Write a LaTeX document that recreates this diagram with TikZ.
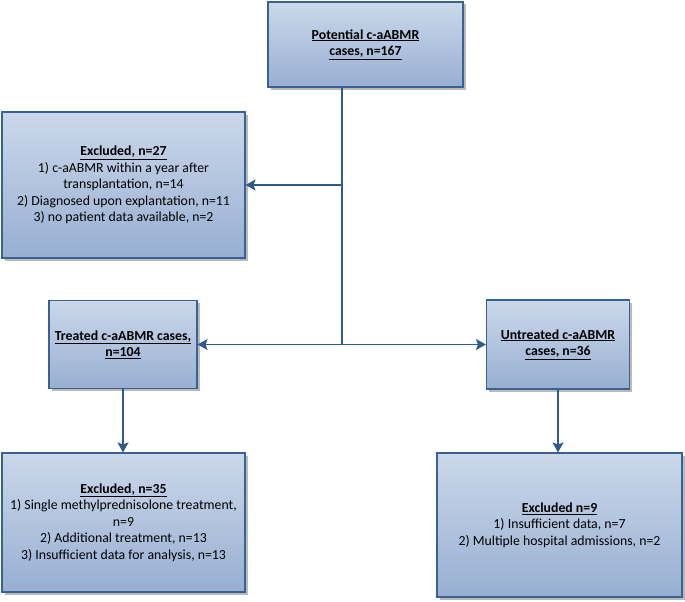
\documentclass[tikz,border=0pt]{standalone}
\usepackage{fontspec}
\setmainfont{Carlito}
\usetikzlibrary{arrows.meta,shadows}

\definecolor{boxtop}{HTML}{CBD8EA}
\definecolor{boxbot}{HTML}{98AFD2}
\definecolor{boxline}{HTML}{3A6193}
\definecolor{flowline}{HTML}{2F5A8C}

\newcommand{\hd}[1]{\underline{\textbf{#1}}}

\tikzset{
	flowbox/.style={draw=boxline, line width=1.1pt, top color=boxtop, bottom color=boxbot,
		align=center, inner sep=2pt, font=\fontsize{13.8}{16.5}\selectfont,
		drop shadow={shadow xshift=2.5pt, shadow yshift=-2.5pt, fill=black!45, opacity=.6}},
	flowarrow/.style={draw=flowline, line width=1.2pt, -{Stealth[length=10pt,width=11pt,inset=2pt]}},
	flowedge/.style={draw=flowline, line width=1.2pt}
}

\begin{document}
\begin{tikzpicture}[x=1pt,y=-1pt]
	\useasboundingbox (0,0) rectangle (685,602);

	%boxes
	\node[flowbox, minimum width=195pt, minimum height=85pt] (potential) at (365.5,44.5)
		{\hd{Potential c-aABMR}\\\hd{cases, n=167}};
	\node[flowbox, minimum width=243pt, minimum height=146pt] (excla) at (123.5,185)
		{\hd{Excluded, n=27}\\1) c-aABMR within a year after\\transplantation, n=14\\2) Diagnosed upon explantation, n=11\\3) no patient data available, n=2};
	\node[flowbox, minimum width=148pt, minimum height=88pt] (treated) at (123,344.5)
		{\hd{Treated c-aABMR cases,}\\\hd{n=104}};
	\node[flowbox, minimum width=143pt, minimum height=89pt] (untreated) at (558,344.5)
		{\hd{Untreated c-aABMR}\\\hd{cases, n=36}};
	\node[flowbox, minimum width=243pt, minimum height=139pt] (exclb) at (123.5,522.5)
		{\hd{Excluded, n=35}\\1) Single methylprednisolone treatment,\\n=9\\2) Additional treatment, n=13\\3) Insufficient data for analysis, n=13};
	\node[flowbox, minimum width=245pt, minimum height=144pt] (exclc) at (559.5,525)
		{\hd{Excluded n=9}\\1) Insufficient data, n=7\\2) Multiple hospital admissions, n=2};

	%trunk from the top box
	\coordinate (split) at (342,344.5);
	\coordinate (branch) at (342,185);
	\draw[flowedge] (potential.south -| split) -- (split);

	%arrows
	\draw[flowarrow] (branch) -- (excla.east);
	\draw[flowarrow] (split) -- (treated.east);
	\draw[flowarrow] (split) -- (untreated.west);
	\draw[flowarrow] (treated.south) -- (exclb.north -| treated.south);
	\draw[flowarrow] (untreated.south) -- (exclc.north -| untreated.south);
\end{tikzpicture}
\end{document}
